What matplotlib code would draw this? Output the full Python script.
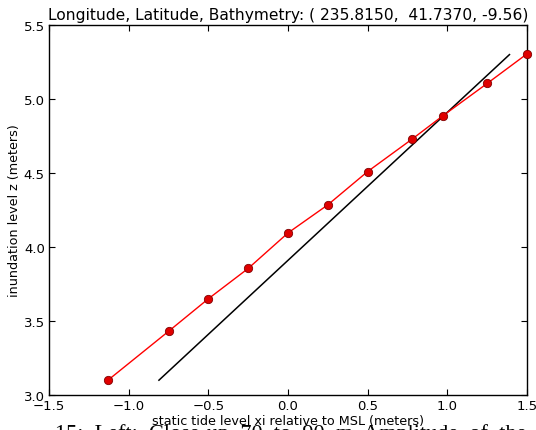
import matplotlib
matplotlib.use("Agg")
import matplotlib.pyplot as plt

xi = [-1.13, -0.75, -0.50, -0.25, 0.00, 0.25, 0.50, 0.78, 0.97, 1.25, 1.50]
z = [3.10, 3.43, 3.65, 3.855, 4.095, 4.285, 4.51, 4.73, 4.885, 5.105, 5.305]
ref_x = [-0.81, 1.39]
ref_y = [3.10, 5.30]
xticks = [-1.5, -1.0, -0.5, 0.0, 0.5, 1.0, 1.5]
yticks = [3.0, 3.5, 4.0, 4.5, 5.0, 5.5]

fig = plt.figure(figsize=(5.36, 4.31), dpi=100)
ax = fig.add_axes([49/536, 1-396/431, (527-49)/536, (396-26)/431])
ax.plot(xi, z, color='red', lw=1, marker='o', ms=6, mfc='#e00000', mec='#800000', mew=0.6, clip_on=False, zorder=3)
ax.plot(ref_x, ref_y, color='black', lw=1.1, zorder=2)
ax.set_xlim(-1.5, 1.5)
ax.set_ylim(3.0, 5.5)
ax.set_xticks(xticks)
ax.set_yticks(yticks)
ax.set_xticklabels([f"{v:.1f}".replace('-', '\u2212') for v in xticks])
ax.set_yticklabels([f"{v:.1f}" for v in yticks])
ax.tick_params(direction='in', top=True, right=True, length=4, labelsize=9.5, pad=3)
for s in ax.spines.values():
    s.set_linewidth(1)
ax.set_xlabel("static tide level xi relative to MSL (meters)", fontsize=9.2, labelpad=1)
ax.set_ylabel("inundation level z (meters)", fontsize=9.2, labelpad=2)
ax.set_title("Longitude, Latitude, Bathymetry: ( 235.8150,  41.7370, -9.56)", fontsize=11.2, pad=4)

fig.text(55/536, 1-439/431, "15:  Left:  Close-up  70  to  90  m  Amplitude  of  the  latitude",
         fontsize=16, family='Liberation Serif', va='baseline', ha='left')

fig.savefig("out.png", dpi=100)
